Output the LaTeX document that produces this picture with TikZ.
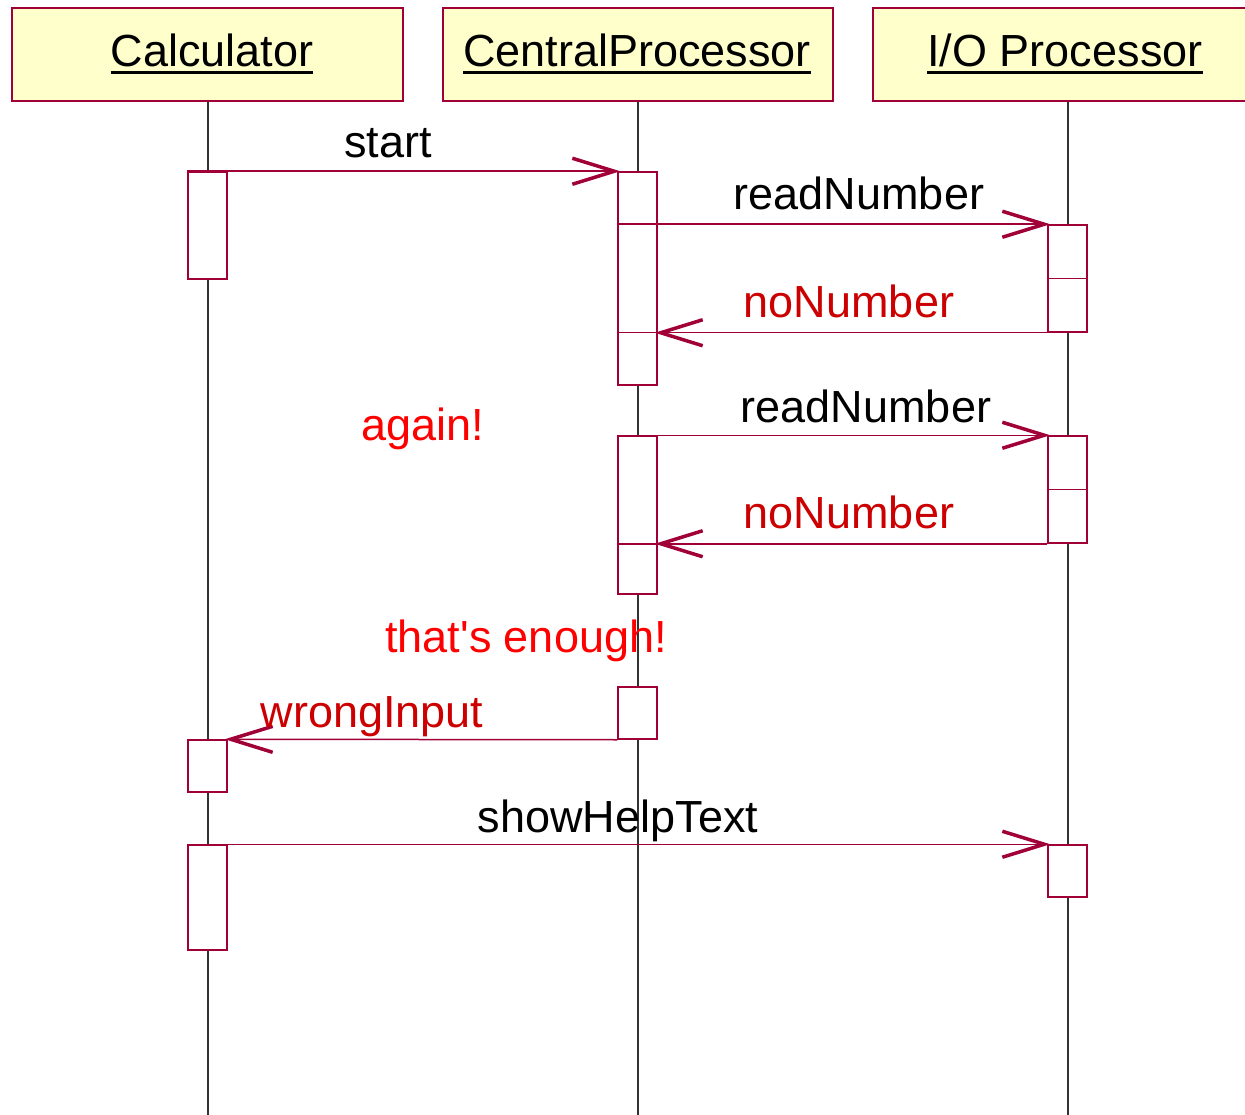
\documentclass[tikz,border=0pt]{standalone}
\usepackage{fontspec}
\setmainfont{Liberation Sans}
\usetikzlibrary{arrows.meta}
\definecolor{umlred}{RGB}{160,0,55}
\definecolor{msgtext}{RGB}{204,0,0}
\definecolor{notetext}{RGB}{255,0,0}
\definecolor{headfill}{RGB}{255,255,204}
\newcommand\ulhead[1]{\setbox0\hbox{#1}\rlap{\rule[-7pt]{\wd0}{3pt}}\box0}
\tikzset{
  hdr/.style={draw=umlred, line width=1.5pt, fill=headfill, minimum height=93pt, inner sep=0pt},
  hdrtext/.style={anchor=base, inner sep=0pt, font=\fontsize{45}{54}\selectfont},
  life/.style={line width=1.1pt, black!80},
  act/.style={draw=umlred, line width=1.5pt, fill=white, minimum width=39pt, inner sep=0pt},
  msg/.style={draw=umlred, line width=1.5pt, shorten >=-3pt, -{Straight Barb[length=42pt,width=26pt,line width=3.5pt]}},
  inner/.style={draw=umlred, line width=1.5pt},
  lbl/.style={anchor=base, inner sep=0pt, font=\fontsize{45}{54}\selectfont},
}
\begin{document}
\begin{tikzpicture}[x=1pt,y=-1pt]
\clip (0,0) rectangle (1245,1115);
\useasboundingbox (0,0) rectangle (1245,1115);
% headers
\node[hdr, minimum width=391pt] (hc) at (207.5,54.5) {};
\node[hdr, minimum width=390pt] (hp) at (638,54.5) {};
\node[hdr, minimum width=390pt] (hi) at (1068,54.5) {};
\node[hdrtext] (tc) at (212,67) {\ulhead{Calculator}};
\node[hdrtext] (tp) at (637,67) {\ulhead{CentralProcessor}};
\node[hdrtext] (ti) at (1065,67) {\ulhead{I/O Processor}};
% lifelines
\coordinate (ec) at (208,1115);
\coordinate (ep) at (638,1115);
\coordinate (ei) at (1068,1115);
\draw[life] (hc.south -| ec) -- (ec);
\draw[life] (hp.south -| ep) -- (ep);
\draw[life] (hi.south -| ei) -- (ei);
% activation boxes
\node[act, minimum height=107pt] (c1) at (207.5,225.5) {};
\node[act, minimum height=52pt]  (c2) at (207.5,766) {};
\node[act, minimum height=105pt] (c3) at (207.5,897.5) {};
\node[act, minimum height=213pt] (p1) at (637.5,278.5) {};
\node[act, minimum height=158pt] (p2) at (637.5,515) {};
\node[act, minimum height=52pt]  (p3) at (637.5,713) {};
\node[act, minimum height=107pt] (i1) at (1067.5,278.5) {};
\node[act, minimum height=107pt] (i2) at (1067.5,489.5) {};
\node[act, minimum height=52pt]  (i3) at (1067.5,871) {};
\draw[inner] (i1.west) -- (i1.east);
\draw[inner] (i2.west) -- (i2.east);
% messages
\draw[msg] (c1.north west) -- (p1.north west);
\node[lbl] (lstart) at (388,158) {start};
\draw[inner] (p1.west |- i1.north) -- (p1.east |- i1.north);
\draw[msg] (p1.east |- i1.north) -- (i1.north west);
\node[lbl] (lr1) at (859,210) {readNumber};
\draw[inner] (p1.west |- i1.south) -- (p1.east |- i1.south);
\draw[msg] (i1.south west) -- (p1.east |- i1.south);
\node[lbl, text=msgtext] (ln1) at (849,318) {noNumber};
\draw[msg] (p2.north east) -- (i2.north west);
\node[lbl] (lr2) at (866,422) {readNumber};
\draw[inner] (p2.west |- i2.south) -- (p2.east |- i2.south);
\draw[msg] (i2.south west) -- (p2.east |- i2.south);
\node[lbl, text=msgtext] (ln2) at (849,528) {noNumber};
\node[lbl, text=notetext] (again) at (423,440) {again!};
\node[lbl, text=notetext] (enough) at (526,652) {that\textquotesingle s enough!};
\draw[msg] (p3.south west) -- (c2.north east);
\node[lbl, text=msgtext] (lw) at (372,727) {wrongInput};
\draw[msg] (c3.north west) -- (i3.north west);
\node[lbl] (lh) at (618,832) {showHelpText};
\end{tikzpicture}
\end{document}
